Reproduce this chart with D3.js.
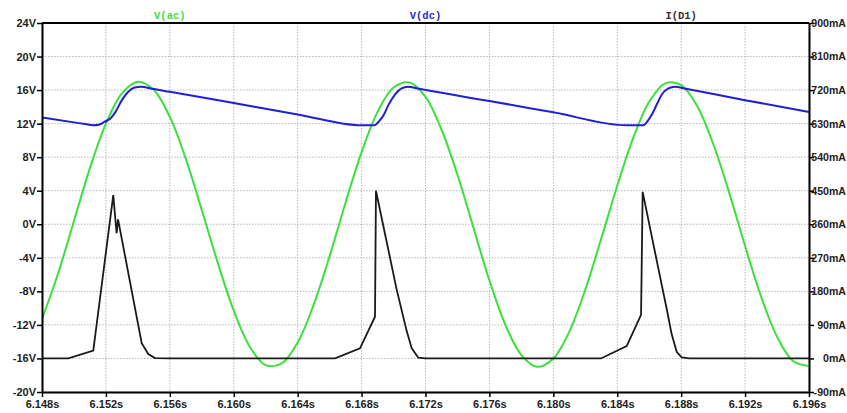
<html>
<head>
<meta charset="utf-8">
<title>V(ac) V(dc) I(D1)</title>
<style type="text/css">
body { margin: 0; background: #fff; }
svg {
  font-family: "Liberation Mono", "DejaVu Sans Mono", monospace;
  font-weight: bold;
}
.grid line { stroke: #b8b8b8; stroke-width: 1px; stroke-dasharray: 1.5,1.5; }
.axis text { fill: #222; font-size: 11px; }
.axis.right text { font-size: 10.6px; }
.axis line { stroke: #000; stroke-width: 1.5px; }
.axis path { stroke: #000; stroke-width: 2px; }
.frame { stroke: #000; stroke-width: 2px; }
.title { font-size: 10.5px; text-anchor: middle; }
.ac { fill: none; stroke: #3be03b; stroke-width: 2px; }
.dc { fill: none; stroke: #1f1fd6; stroke-width: 2px; }
.id { fill: none; stroke: #1a1a1a; stroke-width: 1.8px; }
</style>
</head>
<body>
<script src="https://d3js.org/d3.v7.min.js"></script>
<script>
var m = [23, 38, 21, 42],  // margins [0:top, 1:right, 2:bottom, 3:left]
	w = 847 - m[1] - m[3],
	h = 413 - m[0] - m[2];

// tick labels
var tTicks = [6.148, 6.152, 6.156, 6.160, 6.164, 6.168, 6.172, 6.176, 6.180, 6.184, 6.188, 6.192, 6.196];
var vTicks = [-20, -16, -12, -8, -4, 0, 4, 8, 12, 16, 20, 24];
var iTicks = [-90, 0, 90, 180, 270, 360, 450, 540, 630, 720, 810, 900];
var titles = ["V(ac)", "V(dc)", "I(D1)"];

// V(ac), volts, read every 1 ms
var acT = [6.148, 6.149, 6.150, 6.151, 6.152, 6.153, 6.154, 6.155, 6.156, 6.157,
	6.158, 6.159, 6.160, 6.161, 6.162, 6.163, 6.164, 6.165, 6.166, 6.167,
	6.168, 6.169, 6.170, 6.171, 6.172, 6.173, 6.174, 6.175, 6.176, 6.177,
	6.178, 6.179, 6.180, 6.181, 6.182, 6.183, 6.184, 6.185, 6.186, 6.187,
	6.188, 6.189, 6.190, 6.191, 6.192, 6.193, 6.194, 6.195, 6.196];
var acV = [-11.3, -5.9, 0.4, 6.7, 12.0, 15.6, 17.0, 16.0, 12.8, 7.8,
	1.7, -4.6, -10.3, -14.6, -16.8, -16.6, -14.1, -9.6, -3.8, 2.6,
	8.6, 13.4, 16.3, 16.9, 15.2, 11.3, 5.9, -0.4, -6.7, -12.0,
	-15.6, -17.0, -16.0, -12.8, -7.8, -1.7, 4.6, 10.3, 14.6, 16.8,
	16.6, 14.1, 9.6, 3.8, -2.6, -8.6, -13.4, -16.3, -16.9];

// V(dc), volts
var dcT = [6.1480, 6.1500, 6.1507, 6.1512, 6.1516, 6.1519, 6.1523, 6.1526, 6.1530, 6.1534,
	6.1538, 6.1542, 6.1549, 6.1560, 6.1600, 6.1640, 6.1680, 6.1688, 6.1691, 6.1694,
	6.1697, 6.1701, 6.1705, 6.1709, 6.1716, 6.1760, 6.1800, 6.1846, 6.1856, 6.1859,
	6.1862, 6.1865, 6.1868, 6.1872, 6.1876, 6.1883, 6.1920, 6.1960];
var dcV = [12.75, 12.15, 11.95, 11.8, 11.9, 12.2, 12.65, 13.4, 14.8, 15.8,
	16.3, 16.4, 16.15, 15.8, 14.45, 13.1, 11.8, 11.8, 12.3, 13.1,
	14.3, 15.5, 16.2, 16.4, 16.15, 14.7, 13.35, 11.8, 11.8, 12.3,
	13.2, 14.4, 15.5, 16.2, 16.4, 16.15, 14.8, 13.4];

// I(D1), mA
var idT = [6.1480, 6.14965, 6.15121, 6.15246, 6.15267, 6.15276, 6.15424, 6.15465, 6.15507, 6.1560,
	6.16634, 6.16790, 6.16884, 6.16890, 6.17020, 6.17082, 6.17114, 6.17155, 6.1720,
	6.18298, 6.18459, 6.18549, 6.18559, 6.18678, 6.18710, 6.18740, 6.18772, 6.18803, 6.1885,
	6.1960];
var idI = [0, 0, 21, 438, 336, 373, 41, 12, 1, 0,
	0, 27, 112, 450, 184, 74, 27, 2, 0,
	0, 33, 117, 447, 198, 132, 66, 18, 3, 0,
	0];

var xs = d3.scaleLinear().domain([6.148, 6.196]).range([0, w]),
	yv = d3.scaleLinear().domain([-20, 24]).range([h, 0]),
	yi = d3.scaleLinear().domain([-90, 900]).range([h, 0]);

var svg = d3.select("body").append("svg")
	.attr("width", w + m[1] + m[3])
	.attr("height", h + m[0] + m[2])
  .append("g")
	.attr("transform", "translate(" + m[3] + "," + m[0] + ")");

svg.append("clipPath").attr("id", "plot")
  .append("rect").attr("width", w).attr("height", h);

// dotted grid
var grid = svg.append("g").attr("class", "grid");
grid.selectAll(".gx").data(tTicks).enter().append("line")
	.attr("x1", xs).attr("x2", xs).attr("y1", 0).attr("y2", h);
grid.selectAll(".gy").data(vTicks).enter().append("line")
	.attr("x1", 0).attr("x2", w).attr("y1", yv).attr("y2", yv);

// traces
var lineV = d3.line().x(function(d) { return xs(d[0]); }).y(function(d) { return yv(d[1]); });
var lineI = d3.line().x(function(d) { return xs(d[0]); }).y(function(d) { return yi(d[1]); });

var traces = svg.append("g").attr("clip-path", "url(#plot)");
traces.append("path").attr("class", "ac")
	.attr("d", lineV.curve(d3.curveCatmullRom)(d3.zip(acT, acV)));
traces.append("path").attr("class", "id")
	.attr("d", lineI(d3.zip(idT, idI)));
traces.append("path").attr("class", "dc")
	.attr("d", lineV.curve(d3.curveMonotoneX)(d3.zip(dcT, dcV)));

// axes
svg.append("g").attr("class", "axis")
	.attr("transform", "translate(0," + h + ")")
	.call(d3.axisBottom(xs).tickValues(tTicks).tickSize(5).tickSizeOuter(0).tickPadding(3)
		.tickFormat(function(d) { return d.toFixed(3) + "s"; }));

svg.append("g").attr("class", "axis")
	.call(d3.axisLeft(yv).tickValues(vTicks).tickSize(5).tickSizeOuter(0).tickPadding(1)
		.tickFormat(function(d) { return d + "V"; }));

var right = svg.append("g").attr("class", "axis right")
	.attr("transform", "translate(" + w + ",0)")
	.call(d3.axisRight(yi).tickValues(iTicks).tickSize(5).tickSizeOuter(0)
		.tickFormat(function(d) { return d + "mA"; }));
right.selectAll("text").attr("x", m[1] - 1).attr("text-anchor", "end");

// top edge of the frame
svg.append("line").attr("class", "frame")
	.attr("x1", xs(tTicks[0])).attr("x2", xs(tTicks[tTicks.length - 1]))
	.attr("y1", yv(vTicks[vTicks.length - 1])).attr("y2", yv(vTicks[vTicks.length - 1]));

// trace names
var tColors = ["#3be03b", "#2a2ad6", "#333"];
svg.selectAll(".title").data(titles).enter().append("text")
	.attr("class", "title")
	.attr("x", function(d, i) { return w * (2 * i + 1) / 6; })
	.attr("y", -4)
	.attr("fill", function(d, i) { return tColors[i]; })
	.text(function(d) { return d; });
</script>
</body>
</html>
